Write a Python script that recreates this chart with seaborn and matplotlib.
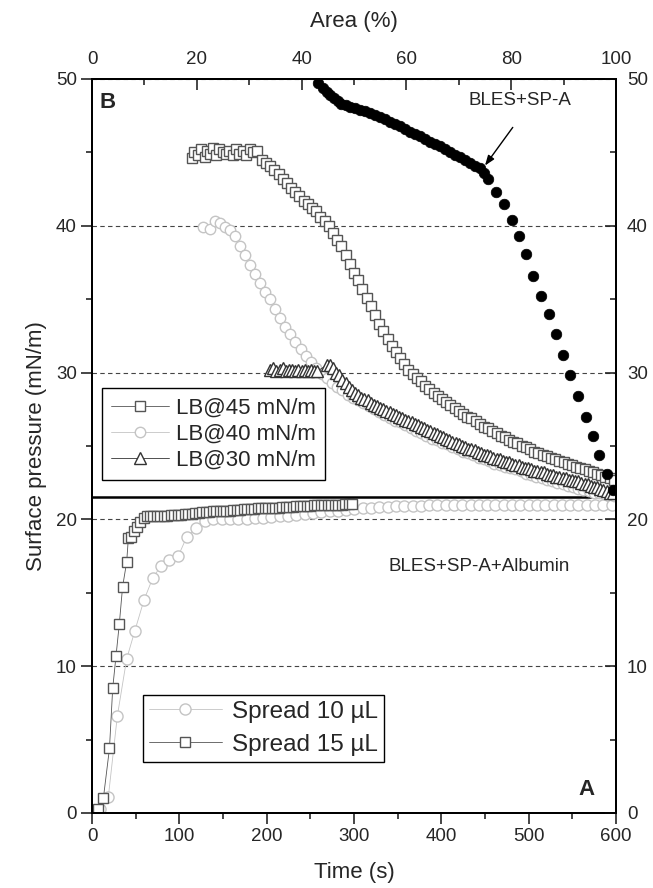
import matplotlib
matplotlib.use("Agg")
import matplotlib.pyplot as plt
from matplotlib.ticker import MultipleLocator
import seaborn as sns

# ---- panel A: spreading, plotted against time (s) ----
spread10_t = [9, 18.7, 29, 39.7, 49, 59.5, 69.5, 78.6, 88.5, 98.8,
              108.4, 119, 129.4, 139, 148.5, 158, 167.5, 177, 186.5, 196,
              205.5, 215, 224.5, 234, 243.5, 253, 262.5, 272, 281.5, 291,
              300.5, 310, 319.5, 329, 338.5, 348, 357.5, 367, 376.5, 386,
              395.5, 405, 414.5, 424, 433.5, 443, 452.5, 462, 471.5, 481,
              490.5, 500, 509.5, 519, 528.5, 538, 547.5, 557, 566.5, 576,
              585.5, 595]
spread10_p = [0.3, 1.1, 6.6, 10.5, 12.4, 14.5, 16.0, 16.8, 17.2, 17.5,
              18.8, 19.4, 19.9, 20.0, 20.0, 20.0, 20.0, 20.05, 20.1, 20.1,
              20.15, 20.2, 20.25, 20.3, 20.35, 20.45, 20.5, 20.55, 20.6, 20.65,
              20.7, 20.75, 20.8, 20.85, 20.85, 20.9, 20.9, 20.9, 20.9, 20.95,
              20.95, 20.95, 20.95, 20.95, 21.0, 21.0, 21.0, 21.0, 21.0, 21.0,
              21.0, 21.0, 21.0, 21.0, 21.0, 21.0, 21.0, 21.0, 21.0, 21.0,
              21.0, 21.0]

spread15_t = [7, 13, 20, 23.7, 27.5, 31.3, 35, 39.7, 41.6, 45,
              48.5, 52, 55.5, 59, 62.5, 66, 70, 74, 78, 82,
              86, 90, 94, 98, 102, 106, 110, 114, 118, 122,
              126, 130, 134, 138, 142, 146, 150, 154, 158, 162,
              166, 170, 174, 178, 182, 186, 190, 194, 198, 202,
              206, 210, 214, 218, 222, 226, 230, 234, 238, 242,
              246, 250, 254, 258, 262, 266, 270, 274, 278, 282,
              286, 290, 294, 298]
spread15_p = [0.3, 1.0, 4.4, 8.5, 10.7, 12.9, 15.4, 17.1, 18.7, 18.8,
              19.2, 19.5, 19.8, 20.1, 20.2, 20.2, 20.2, 20.2, 20.25, 20.25,
              20.25, 20.3, 20.3, 20.3, 20.3, 20.35, 20.35, 20.35, 20.45, 20.45,
              20.5, 20.5, 20.5, 20.55, 20.55, 20.55, 20.6, 20.6, 20.6, 20.65,
              20.65, 20.65, 20.7, 20.7, 20.7, 20.7, 20.75, 20.75, 20.75, 20.8,
              20.8, 20.8, 20.8, 20.85, 20.85, 20.85, 20.85, 20.9, 20.9, 20.9,
              20.9, 20.9, 20.95, 20.95, 20.95, 20.95, 21.0, 21.0, 21.0, 21.0,
              21.0, 21.05, 21.05, 21.05]

# ---- panel B: LB transfer and compression, plotted against area (%) ----
lb45_a = [19.0, 19.5, 20.2, 20.8, 21.5, 22.0, 22.6, 23.1, 23.7, 24.3,
          25.0, 25.6, 26.2, 26.9, 27.5, 28.1, 28.8, 29.4, 30.1, 30.8,
          31.5, 32.4, 33.2, 34.0, 34.8, 35.6, 36.4, 37.2, 38.0, 38.8,
          39.6, 40.4, 41.2, 42.0, 42.8, 43.6, 44.4, 45.2, 46.0, 46.8,
          47.6, 48.4, 49.2, 50.0, 50.8, 51.6, 52.4, 53.2, 54.0, 54.8,
          55.6, 56.4, 57.2, 58.0, 58.8, 59.6, 60.4, 61.2, 62.0, 62.8,
          63.6, 64.4, 65.2, 66.0, 66.8, 67.6, 68.4, 69.2, 70.0, 70.8,
          71.6, 72.4, 73.2, 74.0, 74.8, 75.6, 76.4, 77.2, 78.0, 78.8,
          79.6, 80.4, 81.2, 82.0, 82.8, 83.6, 84.4, 85.2, 86.0, 86.8,
          87.6, 88.4, 89.2, 90.0, 90.8, 91.6, 92.4, 93.2, 94.0, 94.8,
          95.6, 96.4, 97.2, 98.0, 98.8, 99.6]
lb45_p = [44.6, 45.0, 44.8, 45.2, 44.7, 45.1, 44.9, 45.3, 44.8, 45.2,
          45.0, 44.9, 45.1, 44.8, 45.2, 44.9, 45.1, 44.8, 45.2, 45.0,
          45.1, 44.5, 44.3, 44.1, 43.8, 43.5, 43.2, 42.9, 42.6, 42.3,
          42.0, 41.7, 41.5, 41.2, 41.0, 40.6, 40.3, 40.0, 39.5, 39.0,
          38.6, 38.0, 37.4, 36.8, 36.3, 35.7, 35.1, 34.5, 33.9, 33.3,
          32.8, 32.3, 31.8, 31.4, 31.0, 30.6, 30.2, 29.9, 29.6, 29.4,
          29.1, 28.9, 28.6, 28.4, 28.2, 28.0, 27.8, 27.6, 27.4, 27.2,
          27.0, 26.9, 26.7, 26.5, 26.3, 26.2, 26.0, 25.9, 25.7, 25.6,
          25.4, 25.3, 25.2, 25.0, 24.9, 24.8, 24.6, 24.5, 24.4, 24.3,
          24.2, 24.1, 24.0, 23.9, 23.8, 23.7, 23.6, 23.5, 23.4, 23.3,
          23.2, 23.1, 23.0, 22.9, 22.8, 22.7]

lb40_a = [21.2, 22.5, 23.5, 24.4, 25.4, 26.3, 27.3, 28.2, 29.2, 30.2,
          31.1, 32.1, 33.0, 34.0, 34.9, 35.9, 36.8, 37.8, 38.8, 39.8,
          40.8, 41.8, 42.8, 43.8, 44.8, 45.8, 46.8, 47.8, 48.8, 49.8,
          50.8, 51.8, 52.8, 53.8, 54.8, 55.8, 56.8, 57.8, 58.8, 59.8,
          60.8, 61.8, 62.8, 63.8, 64.8, 65.8, 66.8, 67.8, 68.8, 69.8,
          70.8, 71.8, 72.8, 73.8, 74.8, 75.8, 76.8, 77.8, 78.8, 79.8,
          80.8, 81.8, 82.8, 83.8, 84.8, 85.8, 86.8, 87.8, 88.8, 89.8,
          90.8, 91.8, 92.8, 93.8, 94.8, 95.8, 96.8, 97.8, 98.8, 99.6]
lb40_p = [39.9, 39.8, 40.3, 40.2, 39.9, 39.7, 39.3, 38.6, 38.0, 37.3,
          36.7, 36.1, 35.5, 35.0, 34.3, 33.7, 33.1, 32.6, 32.1, 31.6,
          31.1, 30.7, 30.3, 29.9, 29.6, 29.3, 29.0, 28.8, 28.5, 28.3,
          28.1, 27.9, 27.7, 27.5, 27.3, 27.1, 26.9, 26.7, 26.6, 26.4,
          26.2, 26.0, 25.9, 25.7, 25.5, 25.4, 25.2, 25.1, 24.9, 24.8,
          24.6, 24.5, 24.4, 24.2, 24.1, 24.0, 23.8, 23.7, 23.6, 23.5,
          23.4, 23.3, 23.1, 23.0, 22.9, 22.8, 22.7, 22.6, 22.5, 22.4,
          22.3, 22.2, 22.1, 22.0, 21.9, 21.8, 21.8, 21.7, 21.7, 21.6]

lb30_a = [34.0, 34.6, 35.2, 35.8, 36.4, 37.0, 37.6, 38.2, 38.8, 39.4,
          40.0, 40.6, 41.2, 41.8, 42.4, 43.0,
          44.8, 45.4, 46.0, 46.6, 47.2, 47.8, 48.4, 49.0, 49.6, 50.2,
          50.8, 51.4, 52.0, 52.6, 53.2, 53.8, 54.4, 55.0, 55.6, 56.2,
          56.8, 57.4, 58.0, 58.6, 59.2, 59.8, 60.4, 61.0, 61.6, 62.2,
          62.8, 63.4, 64.0, 64.6, 65.2, 65.8, 66.4, 67.0, 67.6, 68.2,
          68.8, 69.4, 70.0, 70.6, 71.2, 71.8, 72.4, 73.0, 73.6, 74.2,
          74.8, 75.4, 76.0, 76.6, 77.2, 77.8, 78.4, 79.0, 79.6, 80.2,
          80.8, 81.4, 82.0, 82.6, 83.2, 83.8, 84.4, 85.0, 85.6, 86.2,
          86.8, 87.4, 88.0, 88.6, 89.2, 89.8, 90.4, 91.0, 91.6, 92.2,
          92.8, 93.4, 94.0, 94.6, 95.2, 95.8, 96.4, 97.0, 97.6, 98.2,
          98.8, 99.4]
lb30_p = [30.2, 30.3, 30.1, 30.2, 30.3, 30.1, 30.2, 30.2, 30.1, 30.2,
          30.1, 30.2, 30.1, 30.2, 30.1, 30.1,
          30.5, 30.5, 30.3, 30.0, 29.8, 29.5, 29.3, 29.0, 28.8, 28.6,
          28.5, 28.3, 28.2, 28.1, 27.9, 27.8, 27.7, 27.6, 27.5, 27.4,
          27.3, 27.2, 27.1, 27.0, 26.9, 26.8, 26.7, 26.6, 26.5, 26.4,
          26.3, 26.2, 26.1, 26.0, 25.9, 25.8, 25.7, 25.6, 25.5, 25.4,
          25.3, 25.2, 25.1, 25.0, 24.9, 24.8, 24.8, 24.7, 24.6, 24.5,
          24.4, 24.4, 24.3, 24.2, 24.1, 24.1, 24.0, 23.9, 23.9, 23.8,
          23.7, 23.7, 23.6, 23.5, 23.5, 23.4, 23.3, 23.3, 23.2, 23.2,
          23.1, 23.0, 23.0, 22.9, 22.9, 22.8, 22.8, 22.7, 22.7, 22.6,
          22.6, 22.5, 22.4, 22.4, 22.3, 22.2, 22.2, 22.1, 22.0, 21.9,
          21.8, 21.8]

spa_a = [43.2, 44.0, 44.8, 45.5, 46.1, 46.9, 47.6, 48.4, 49.2, 50.1,
         51.1, 52.1, 53.1, 54.0, 55.0, 55.9, 56.9, 57.8, 58.8, 59.7,
         60.7, 61.6, 62.6, 63.5, 64.5, 65.4, 66.4, 67.3, 68.3, 69.2,
         70.2, 71.1, 72.1, 73.0, 74.0, 74.8,
         75.6, 77.1, 78.6, 80.1, 81.4, 82.8, 84.2, 85.7, 87.2, 88.5,
         89.8, 91.2, 92.8, 94.3, 95.6, 96.8, 98.2, 99.5]
spa_p = [49.7, 49.4, 49.1, 48.9, 48.7, 48.5, 48.3, 48.2, 48.1, 48.0,
         47.9, 47.8, 47.7, 47.55, 47.4, 47.25, 47.1, 46.95, 46.8, 46.6,
         46.4, 46.25, 46.1, 45.9, 45.7, 45.55, 45.4, 45.2, 45.0, 44.85,
         44.7, 44.5, 44.3, 44.1, 43.9, 43.6,
         43.2, 42.3, 41.5, 40.4, 39.3, 38.1, 36.6, 35.2, 34.0, 32.6,
         31.2, 29.8, 28.4, 27.0, 25.7, 24.4, 23.1, 22.0]

separator = 21.5  # boundary between panel A and panel B
arrow_tip = (75.0, 44.1)
arrow_tail = (80.3, 46.7)

dark = "#555555"
light = "#c4c4c4"
tri = "#333333"

sns.set_style("ticks")
plt.rcParams["font.family"] = ["Liberation Sans", "DejaVu Sans"]

fig = plt.figure(figsize=(6.53, 8.88), dpi=100)
ax = fig.add_axes([0.1409, 0.0845, 0.8024, 0.8266])
axt = ax.twiny()
axr = ax.twinx()

common = dict(sort=False, estimator=None, markeredgewidth=1.0)

# panel A
sns.lineplot(x=spread10_t, y=spread10_p, ax=ax, color=light, marker="o", markersize=8,
             markerfacecolor="white", markeredgecolor=light, linewidth=0.6,
             label="Spread 10 \u00b5L", **common)
sns.lineplot(x=spread15_t, y=spread15_p, ax=ax, color=dark, marker="s", markersize=7,
             markerfacecolor="white", markeredgecolor=dark, linewidth=0.6,
             label="Spread 15 \u00b5L", **common)

# panel B
sns.lineplot(x=lb45_a, y=lb45_p, ax=axt, color=dark, marker="s", markersize=7,
             markerfacecolor="white", markeredgecolor=dark, linewidth=0.6,
             label="LB@45 mN/m", **common)
sns.lineplot(x=lb40_a, y=lb40_p, ax=axt, color=light, marker="o", markersize=7.5,
             markerfacecolor="white", markeredgecolor=light, linewidth=0.6,
             label="LB@40 mN/m", **common)
sns.lineplot(x=lb30_a, y=lb30_p, ax=axt, color=tri, marker="^", markersize=8,
             markerfacecolor="white", markeredgecolor=tri, linewidth=0.6,
             label="LB@30 mN/m", **common)
sns.scatterplot(x=spa_a, y=spa_p, ax=axt, color="black", s=58, edgecolor="black",
                linewidth=0.5, zorder=4)

ax.axhline(separator, color="black", linewidth=1.8, zorder=5)

# axes ranges and ticks
ax.set_xlim(0, 600)
ax.set_ylim(0, 50)
axt.set_xlim(0, 100)
axr.set_ylim(0, 50)

ax.xaxis.set_major_locator(MultipleLocator(100))
ax.xaxis.set_minor_locator(MultipleLocator(50))
ax.yaxis.set_major_locator(MultipleLocator(10))
ax.yaxis.set_minor_locator(MultipleLocator(5))
axt.xaxis.set_major_locator(MultipleLocator(20))
axt.xaxis.set_minor_locator(MultipleLocator(10))
axr.yaxis.set_major_locator(MultipleLocator(10))
axr.yaxis.set_minor_locator(MultipleLocator(5))

ax.tick_params(axis="both", which="major", direction="out", length=8, width=1.2,
               labelsize=13.5, pad=3, top=False, right=False)
ax.tick_params(axis="both", which="minor", direction="out", length=4, width=1.2,
               top=False, right=False)
axt.tick_params(axis="x", which="major", direction="in", length=8, width=1.2,
                labelsize=13.5, pad=8)
axt.tick_params(axis="x", which="minor", direction="in", length=4.5, width=1.2)
axr.tick_params(axis="y", which="major", direction="in", length=8, width=1.2,
                labelsize=13.5, pad=8)
axr.tick_params(axis="y", which="minor", direction="in", length=4.5, width=1.2)

for a in (ax, axt, axr):
    for s in a.spines.values():
        s.set_linewidth(1.3)
        s.set_color("black")

ax.grid(axis="y", which="major", linestyle=(0, (4, 3)), color="#444444", linewidth=0.8)

ax.set_xlabel("Time (s)", fontsize=16, labelpad=12)
ax.set_ylabel("Surface pressure (mN/m)", fontsize=16, labelpad=6)
axt.set_xlabel("Area (%)", fontsize=16, labelpad=17)
axt.set_ylabel("")
axr.set_ylabel("")

# annotations
ax.text(0.015, 0.982, "B", transform=ax.transAxes, ha="left", va="top",
        fontsize=16, fontweight="bold")
ax.text(0.96, 0.018, "A", transform=ax.transAxes, ha="right", va="bottom",
        fontsize=16, fontweight="bold")
axt.text(81.6, 48.5, "BLES+SP-A", ha="center", va="center", fontsize=13.5)
ax.text(443, 16.8, "BLES+SP-A+Albumin", ha="center", va="center", fontsize=13.5)
axt.annotate("", xy=arrow_tip, xytext=arrow_tail,
             arrowprops=dict(arrowstyle="-|>,head_length=0.6,head_width=0.22",
                             color="black", lw=1.0, shrinkA=0, shrinkB=0))

# legends
h, l = axt.get_legend_handles_labels()
leg_b = axt.legend(h[:3], l[:3], loc="upper left", bbox_to_anchor=(0.019, 0.579),
                   borderaxespad=0, fancybox=False, edgecolor="black", framealpha=1,
                   fontsize=16, handlelength=2.6, handletextpad=0.3,
                   labelspacing=0.24, borderpad=0.42)
leg_b.get_frame().set_linewidth(1.0)

h, l = ax.get_legend_handles_labels()
leg_a = ax.legend(h, l, loc="upper left", bbox_to_anchor=(0.097, 0.161),
                  borderaxespad=0, fancybox=False, edgecolor="black", framealpha=1,
                  fontsize=17.5, handlelength=3.0, handletextpad=0.4,
                  labelspacing=0.45, borderpad=0.25)
leg_a.get_frame().set_linewidth(1.0)

fig.savefig("out.png", dpi=100)
